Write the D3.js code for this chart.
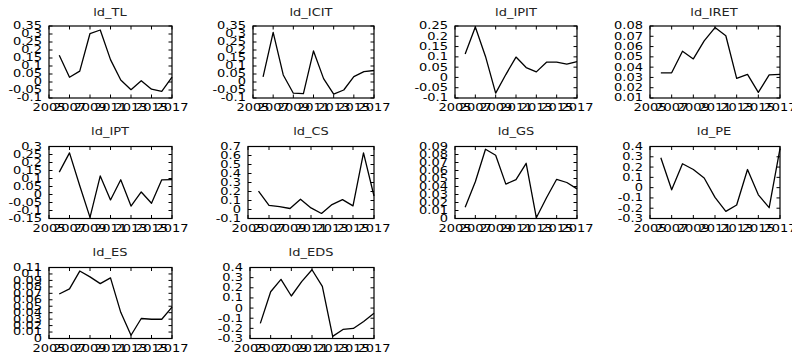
<!DOCTYPE html>
<html><head><meta charset="utf-8">
<script src="https://cdn.jsdelivr.net/npm/d3@7"></script>
<style>
body{margin:0;background:#fff}
svg text{font-family:"DejaVu Sans",sans-serif;font-size:10px;fill:#000}
</style>
</head><body>
<svg id="chart" width="792" height="356"></svg>
<script>
// ---- data ----
const years = [2006,2007,2008,2009,2010,2011,2012,2013,2014,2015,2016,2017];
const xTickYears = [2005,2007,2009,2011,2013,2015,2017];
const titles = ["ld_TL","ld_ICIT","ld_IPIT","ld_IRET","ld_IPT","ld_CS","ld_GS","ld_PE","ld_ES","ld_EDS"];
const ld_TL   = [0.167,0.030,0.068,0.303,0.325,0.140,0.013,-0.048,0.008,-0.045,-0.058,0.030];
const ld_ICIT = [0.032,0.310,0.044,-0.070,-0.073,0.194,0.021,-0.076,-0.050,0.034,0.065,0.072];
const ld_IPIT = [0.114,0.245,0.102,-0.076,0.014,0.099,0.048,0.027,0.074,0.074,0.065,0.077];
const ld_IRET = [0.0345,0.0345,0.0555,0.048,0.0655,0.0785,0.0705,0.029,0.033,0.0155,0.0325,0.033];
const ld_IPT  = [0.140,0.260,0.055,-0.143,0.116,-0.034,0.092,-0.072,0.016,-0.055,0.092,0.093];
const ld_CS   = [0.203,0.046,0.032,0.011,0.115,0.018,-0.044,0.055,0.110,0.040,0.630,0.150];
const ld_GS   = [0.014,0.046,0.0866,0.079,0.043,0.0485,0.069,0.001,0.026,0.049,0.045,0.037];
const ld_PE   = [0.290,-0.021,0.232,0.176,0.094,-0.095,-0.231,-0.169,0.176,-0.070,-0.195,0.380];
const ld_ES   = [0.069,0.077,0.1045,0.0955,0.085,0.094,0.0405,0.005,0.031,0.0298,0.0298,0.0485];
const ld_EDS  = [-0.151,0.161,0.283,0.119,0.260,0.378,0.214,-0.279,-0.211,-0.201,-0.132,-0.052];
const yTicks_TL   = [-0.1,-0.05,0,0.05,0.1,0.15,0.2,0.25,0.3,0.35];
const yTicks_ICIT = [-0.1,-0.05,0,0.05,0.1,0.15,0.2,0.25,0.3,0.35];
const yTicks_IPIT = [-0.1,-0.05,0,0.05,0.1,0.15,0.2,0.25];
const yTicks_IRET = [0.01,0.02,0.03,0.04,0.05,0.06,0.07,0.08];
const yTicks_IPT  = [-0.15,-0.1,-0.05,0,0.05,0.1,0.15,0.2,0.25,0.3];
const yTicks_CS   = [-0.1,0,0.1,0.2,0.3,0.4,0.5,0.6,0.7];
const yTicks_GS   = [0,0.01,0.02,0.03,0.04,0.05,0.06,0.07,0.08,0.09];
const yTicks_PE   = [-0.3,-0.2,-0.1,0,0.1,0.2,0.3,0.4];
const yTicks_ES   = [0,0.01,0.02,0.03,0.04,0.05,0.06,0.07,0.08,0.09,0.1,0.11];
const yTicks_EDS  = [-0.3,-0.2,-0.1,0,0.1,0.2,0.3,0.4];

const series = [ld_TL,ld_ICIT,ld_IPIT,ld_IRET,ld_IPT,ld_CS,ld_GS,ld_PE,ld_ES,ld_EDS];
const yTickSets = [yTicks_TL,yTicks_ICIT,yTicks_IPIT,yTicks_IRET,yTicks_IPT,yTicks_CS,yTicks_GS,yTicks_PE,yTicks_ES,yTicks_EDS];

// ---- layout ----
const boxLeft  = [49,253,455,650, 49,248,455,650, 49,250];
const colRight = [172,374,577,780];
const colTitleX = [110,311,516,714];
const rowTop = [26,146.5,267.5];
const rowBottom = [98,218.5,338.5];
const rowTitleY = [13,132,253];
const SX = 1.3; // horizontal stretch of the text
const TICK = 3.5;

const svg = d3.select("#chart");

function txt(g, x, y, s, anchor, fill){
  g.append("text")
    .attr("transform", `translate(${x},${y}) scale(${SX},1)`)
    .attr("text-anchor", anchor)
    .attr("dominant-baseline", "central")
    .style("fill", fill || "#000")
    .text(s);
}

series.forEach((vals, i) => {
  const row = Math.floor(i/4), col = i % 4;
  const ticks = yTickSets[i];
  const x0 = boxLeft[i], x1 = colRight[col];
  const y0 = rowTop[row], y1 = rowBottom[row];
  const x = d3.scaleLinear().domain([2005,2017]).range([x0,x1]);
  const y = d3.scaleLinear().domain([d3.min(ticks), d3.max(ticks)]).range([y1,y0]);
  const g = svg.append("g");

  // title
  txt(g, colTitleX[col], rowTitleY[row], titles[i], "middle", "#222");

  // ticks (inward, mirrored)
  ticks.forEach(t => {
    const yy = y(t);
    g.append("line").attr("x1",x0).attr("x2",x0+TICK).attr("y1",yy).attr("y2",yy).attr("stroke","#000");
    g.append("line").attr("x1",x1).attr("x2",x1-TICK).attr("y1",yy).attr("y2",yy).attr("stroke","#000");
    txt(g, x0-7, yy, String(+t.toFixed(3)), "end");
  });
  xTickYears.forEach(t => {
    const xx = x(t);
    g.append("line").attr("x1",xx).attr("x2",xx).attr("y1",y1).attr("y2",y1-TICK).attr("stroke","#000");
    g.append("line").attr("x1",xx).attr("x2",xx).attr("y1",y0).attr("y2",y0+TICK).attr("stroke","#000");
    txt(g, xx, y1+10, String(t), "middle");
  });

  // series line
  g.append("path")
    .datum(vals.map((v,k)=>[years[k],v]))
    .attr("fill","none").attr("stroke","#000").attr("stroke-width",1.3)
    .attr("stroke-linejoin","round")
    .attr("d", d3.line().x(d=>x(d[0])).y(d=>y(d[1])));

  // frame
  g.append("rect").attr("x",x0).attr("y",y0).attr("width",x1-x0).attr("height",y1-y0)
    .attr("fill","none").attr("stroke","#000").attr("stroke-width",1.2);
});
</script>
</body></html>
